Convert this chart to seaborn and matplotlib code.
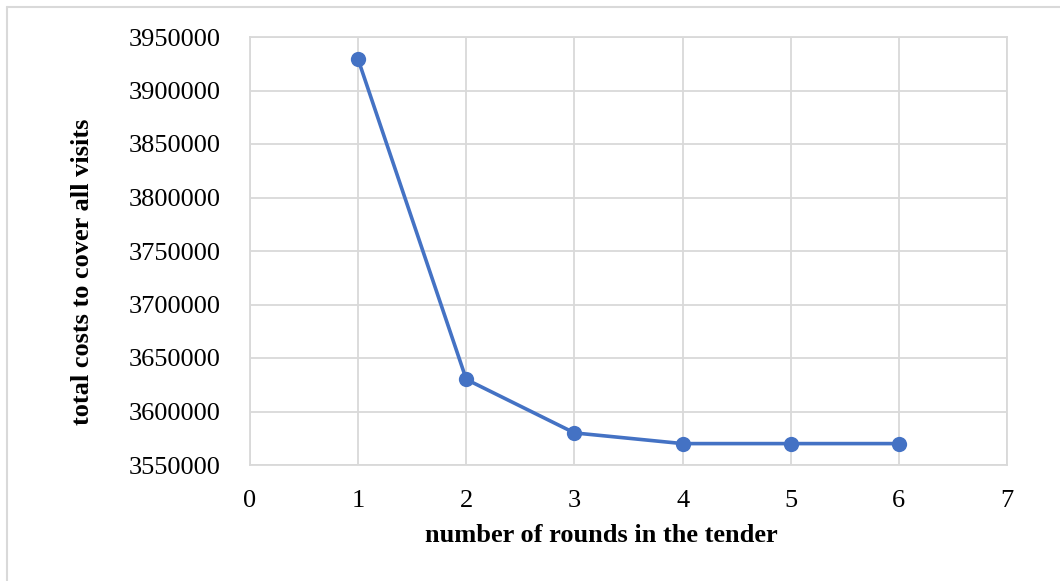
import matplotlib
matplotlib.use("Agg")
import matplotlib.pyplot as plt
import seaborn as sns
import pandas as pd
from matplotlib.lines import Line2D

rounds = [1, 2, 3, 4, 5, 6]
total_costs = [3929000, 3630000, 3580000, 3570000, 3570000, 3570000]
y_ticks = [3550000, 3600000, 3650000, 3700000, 3750000, 3800000, 3850000, 3900000, 3950000]
x_ticks = [0, 1, 2, 3, 4, 5, 6, 7]

df = pd.DataFrame({"rounds": rounds, "cost": total_costs})

sns.set_theme(style="white")
plt.rcParams['font.family'] = ['Liberation Serif', 'DejaVu Serif']

W, H = 1060, 581
fig = plt.figure(figsize=(W / 100, H / 100), dpi=100)
ax = fig.add_axes([250 / W, 1 - 465 / H, (1007 - 250) / W, (465 - 37) / H])

sns.lineplot(data=df, x="rounds", y="cost", ax=ax, color="#4472C4", linewidth=2.6,
             marker="o", markersize=11, markeredgewidth=0, zorder=3)

ax.set_xlim(0, 7)
ax.set_ylim(3550000, 3950000)
ax.set_xticks(x_ticks)
ax.set_yticks(y_ticks)
ax.set_xticklabels([str(v) for v in x_ticks])
ax.set_yticklabels([str(v) for v in y_ticks])
ax.grid(True, color="#D9D9D9", linewidth=1.3)
ax.set_axisbelow(True)
for s in ax.spines.values():
    s.set_visible(True)
    s.set_color("#D9D9D9")
    s.set_linewidth(1.3)
ax.tick_params(axis="both", length=0, labelsize=19, colors="black")
ax.tick_params(axis="y", pad=21)
ax.tick_params(axis="x", pad=18)

ax.set_xlabel("number of rounds in the tender", fontsize=19, fontweight="bold", color="black")
ax.set_ylabel("total costs to cover all visits", fontsize=19, fontweight="bold", color="black")
ax.xaxis.set_label_coords((601 - 250) / (1007 - 250), -(535 - 465) / (465 - 37))
ax.yaxis.set_label_coords(-(250 - 83) / (1007 - 250), (465 - 272) / (465 - 37))
ax.xaxis.label.set_va("center")
ax.yaxis.label.set_va("center")

# chart area border (left and top visible)
fig.add_artist(Line2D([7 / W, 7 / W], [0, 1 - 7 / H], color="#D9D9D9", linewidth=1.5, transform=fig.transFigure))
fig.add_artist(Line2D([7 / W, 1], [1 - 7 / H, 1 - 7 / H], color="#D9D9D9", linewidth=1.5, transform=fig.transFigure))

fig.savefig("out.png", dpi=100)
